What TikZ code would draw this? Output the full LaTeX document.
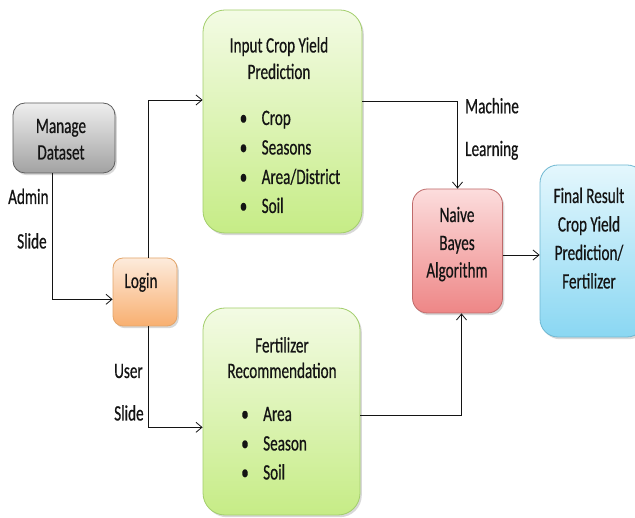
\documentclass[tikz,border=0pt]{standalone}
\usepackage{fontspec}
\setmainfont{Carlito}[FakeStretch=0.69, FakeBold=0.5]
\usetikzlibrary{arrows.meta,shadows}

\definecolor{ink}{HTML}{141414}
\definecolor{grayTop}{HTML}{EEEEEE}
\definecolor{grayBot}{HTML}{A2A2A2}
\definecolor{grayLine}{HTML}{5E5E5E}
\definecolor{orgTop}{HTML}{FDEBDC}
\definecolor{orgBot}{HTML}{F8AF70}
\definecolor{orgLine}{HTML}{E3A56A}
\definecolor{grnTop}{HTML}{F3FBE4}
\definecolor{grnBot}{HTML}{C6EC86}
\definecolor{grnLine}{HTML}{A3CE6C}
\definecolor{redTop}{HTML}{FCDDDD}
\definecolor{redBot}{HTML}{EE8686}
\definecolor{redLine}{HTML}{BF6A6A}
\definecolor{cyaTop}{HTML}{E4F7FD}
\definecolor{cyaBot}{HTML}{8AD7F2}
\definecolor{cyaLine}{HTML}{6FB8D2}

\tikzset{
  box/.style={draw, line width=0.8pt, inner sep=0pt,
    drop shadow={shadow xshift=1.8pt, shadow yshift=-2.2pt, opacity=0.3}},
  graybox/.style={box, draw=grayLine, top color=grayTop, bottom color=grayBot, rounded corners=12pt},
  orgbox/.style={box, draw=orgLine, top color=orgTop, bottom color=orgBot, rounded corners=10pt},
  grnbox/.style={box, draw=grnLine, top color=grnTop, bottom color=grnBot, rounded corners=22pt},
  redbox/.style={box, draw=redLine, top color=redTop, bottom color=redBot, rounded corners=15pt},
  cyabox/.style={box, draw=cyaLine, top color=cyaTop, bottom color=cyaBot, rounded corners=18pt},
  txt/.style={inner sep=0pt, text=ink, font=\fontsize{22}{26}\selectfont, anchor=base},
  ltxt/.style={txt, anchor=base west},
  arr/.style={draw=ink, line width=0.8pt, -{Straight Barb[length=6pt,width=10pt]}},
}

\begin{document}
\begin{tikzpicture}[x=1pt, y=-1pt]
  \clip (0,0) rectangle (635,518);
  \fill[white] (0,0) rectangle (635,518);

  % boxes
  \node[graybox, minimum width=102pt, minimum height=70pt] (md) at (64,138) {};
  \node[orgbox, minimum width=64pt, minimum height=68pt] (login) at (145,292) {};
  \node[grnbox, minimum width=159pt, minimum height=223pt] (inp) at (282.5,121.5) {};
  \node[grnbox, minimum width=157pt, minimum height=207pt] (fert) at (281.5,411.5) {};
  \node[redbox, minimum width=90pt, minimum height=124pt] (nb) at (457.5,251) {};
  \node[cyabox, minimum width=105pt, minimum height=172pt] (fin) at (592.5,251) {};

  % box texts
  \node[txt] (mdA) at (61,133) {Manage};
  \node[txt] (mdB) at (61,159.5) {Dataset};
  \node[txt] (loginT) at (141,288) {Login};

  \node[txt] (inpA) at (279,52.5) {Input Crop Yield};
  \node[txt] (inpB) at (279,79) {Prediction};
  \foreach \t/\y [count=\i] in {Crop/125, Seasons/154.5, Area\slash District/184, Soil/213}{
    \node[txt] (inpdot\i) at (243.5,\y) {•};
    \node[ltxt] (inpitem\i) at (261.5,\y) {\t};
  }

  \node[txt] (fertA) at (282,352.5) {Fertilizer};
  \node[txt] (fertB) at (282,378) {Recommendation};
  \foreach \t/\y [count=\i] in {Area/421, Season/450.5, Soil/479.5}{
    \node[txt] (fertdot\i) at (245,\y) {•};
    \node[ltxt] (fertitem\i) at (263,\y) {\t};
  }

  \node[txt] (nbA) at (457,222) {Naive};
  \node[txt] (nbB) at (457,250) {Bayes};
  \node[txt] (nbC) at (457,277.5) {Algorithm};

  \node[txt] (finA) at (589,203) {Final Result};
  \node[txt] (finB) at (589,231.5) {Crop Yield};
  \node[txt] (finC) at (589,260) {Prediction/};
  \node[txt] (finD) at (589,288.5) {Fertilizer};

  % connector labels
  \node[ltxt] (adm) at (8,204) {Admin};
  \node[ltxt] (sl1) at (17,248.5) {Slide};
  \node[ltxt] (usr) at (114,378) {User};
  \node[ltxt] (sl2) at (114,420.5) {Slide};
  \node[ltxt] (mach) at (465,113.3) {Machine};
  \node[ltxt] (learn) at (465,156) {Learning};

  % connectors
  \draw[arr] ([xshift=-11.7pt]md.south) |- ([yshift=-7.3pt]login.west);
  \draw[arr] ([xshift=3pt]login.north) |- ([yshift=21.5pt]inp.west);
  \draw[arr] ([xshift=3pt]login.south) |- ([yshift=-15.8pt]fert.west);
  \draw[arr] ([yshift=20.5pt]inp.east) -| (nb.north);
  \draw[arr] ([yshift=-3.5pt]fert.east) -| ([xshift=4pt]nb.south);
  \draw[arr] ([yshift=-4pt]nb.east) -- ([yshift=-4pt]nb.east -| fin.west);
\end{tikzpicture}
\end{document}
